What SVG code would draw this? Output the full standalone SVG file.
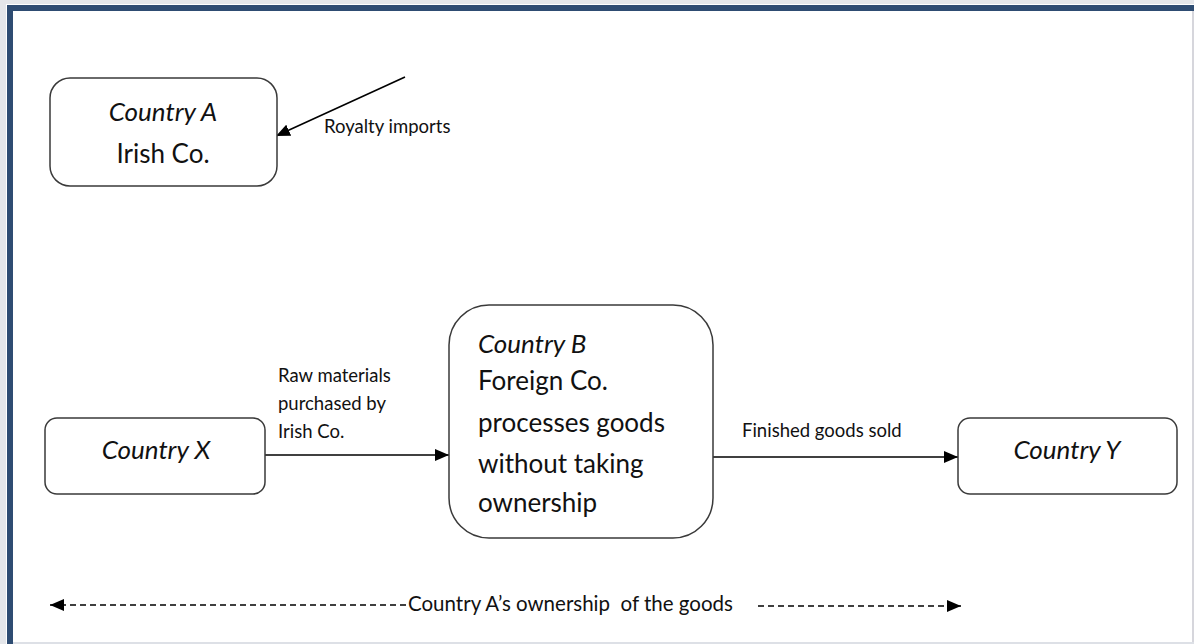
<svg xmlns="http://www.w3.org/2000/svg" width="1194" height="644" viewBox="0 0 1194 644">
<style>
.box{fill:#fff;stroke:#3a3a3a;stroke-width:1.5}
.t{font-family:Lato,"Open Sans","Liberation Sans",sans-serif;fill:#111}
.big{font-size:26px}
.sm{font-size:18.5px}
.it{font-style:italic}
.ln{stroke:#000;stroke-width:1.6;fill:none}
</style>
<defs>
<marker id="ah" viewBox="0 0 14 12" refX="14" refY="6" markerWidth="14" markerHeight="12" markerUnits="userSpaceOnUse" orient="auto-start-reverse">
<path d="M0,0 L14,6 L0,12 Z" fill="#000"/>
</marker>
</defs>
<rect x="0" y="0" width="1194" height="644" fill="#fff"/>
<rect x="0" y="0" width="1194" height="4" fill="#e4e6ea"/>
<rect x="0" y="0" width="6" height="644" fill="#e4e6ea"/>
<rect x="7" y="5" width="1187" height="6" fill="#2e4c72"/>
<rect x="7" y="5" width="6" height="639" fill="#2e4c72"/>
<line x1="1193" y1="11" x2="1193" y2="644" stroke="#c9c9d0" stroke-width="1.5"/>
<line x1="13" y1="643" x2="1194" y2="643" stroke="#dde0e6" stroke-width="2"/>
<g id="connectors">
<line class="ln" x1="405" y1="77" x2="276" y2="136" marker-end="url(#ah)"/>
<line class="ln" x1="265" y1="455" x2="449" y2="455" marker-end="url(#ah)"/>
<line class="ln" x1="713" y1="457" x2="958" y2="457" marker-end="url(#ah)"/>
<line class="ln" x1="50" y1="605" x2="406" y2="605" stroke-dasharray="6,4" marker-start="url(#ah)"/>
<line class="ln" x1="758" y1="606" x2="961" y2="606" stroke-dasharray="6,4" marker-end="url(#ah)"/>
<text class="t sm" x="324" y="133">Royalty imports</text>
<text class="t sm" x="278" y="382">Raw materials</text>
<text class="t sm" x="278" y="410">purchased by</text>
<text class="t sm" x="278" y="438">Irish Co.</text>
<text class="t sm" x="742" y="437">Finished goods sold</text>
<text class="t" font-size="20.5" x="408" y="611">Country A’s ownership&#160; of the goods</text>
</g>
<g id="countryA">
<rect class="box" x="50" y="78" width="227" height="108" rx="20"/>
<text class="t big it" x="163" y="121" text-anchor="middle">Country A</text>
<text class="t big" x="163" y="163" text-anchor="middle">Irish Co.</text>
</g>
<g id="countryX">
<rect class="box" x="45" y="418" width="220" height="76" rx="12"/>
<text class="t big it" x="156" y="459" text-anchor="middle">Country X</text>
</g>
<g id="countryB">
<rect class="box" x="449" y="305" width="264" height="233" rx="40"/>
<text class="t big it" x="478" y="353">Country B</text>
<text class="t big" x="478" y="390">Foreign Co.</text>
<text class="t big" x="478" y="432">processes goods</text>
<text class="t big" x="478" y="473">without taking</text>
<text class="t big" x="478" y="512">ownership</text>
</g>
<g id="countryY">
<rect class="box" x="958" y="418" width="219" height="76" rx="12"/>
<text class="t big it" x="1067" y="459" text-anchor="middle">Country Y</text>
</g>
</svg>
